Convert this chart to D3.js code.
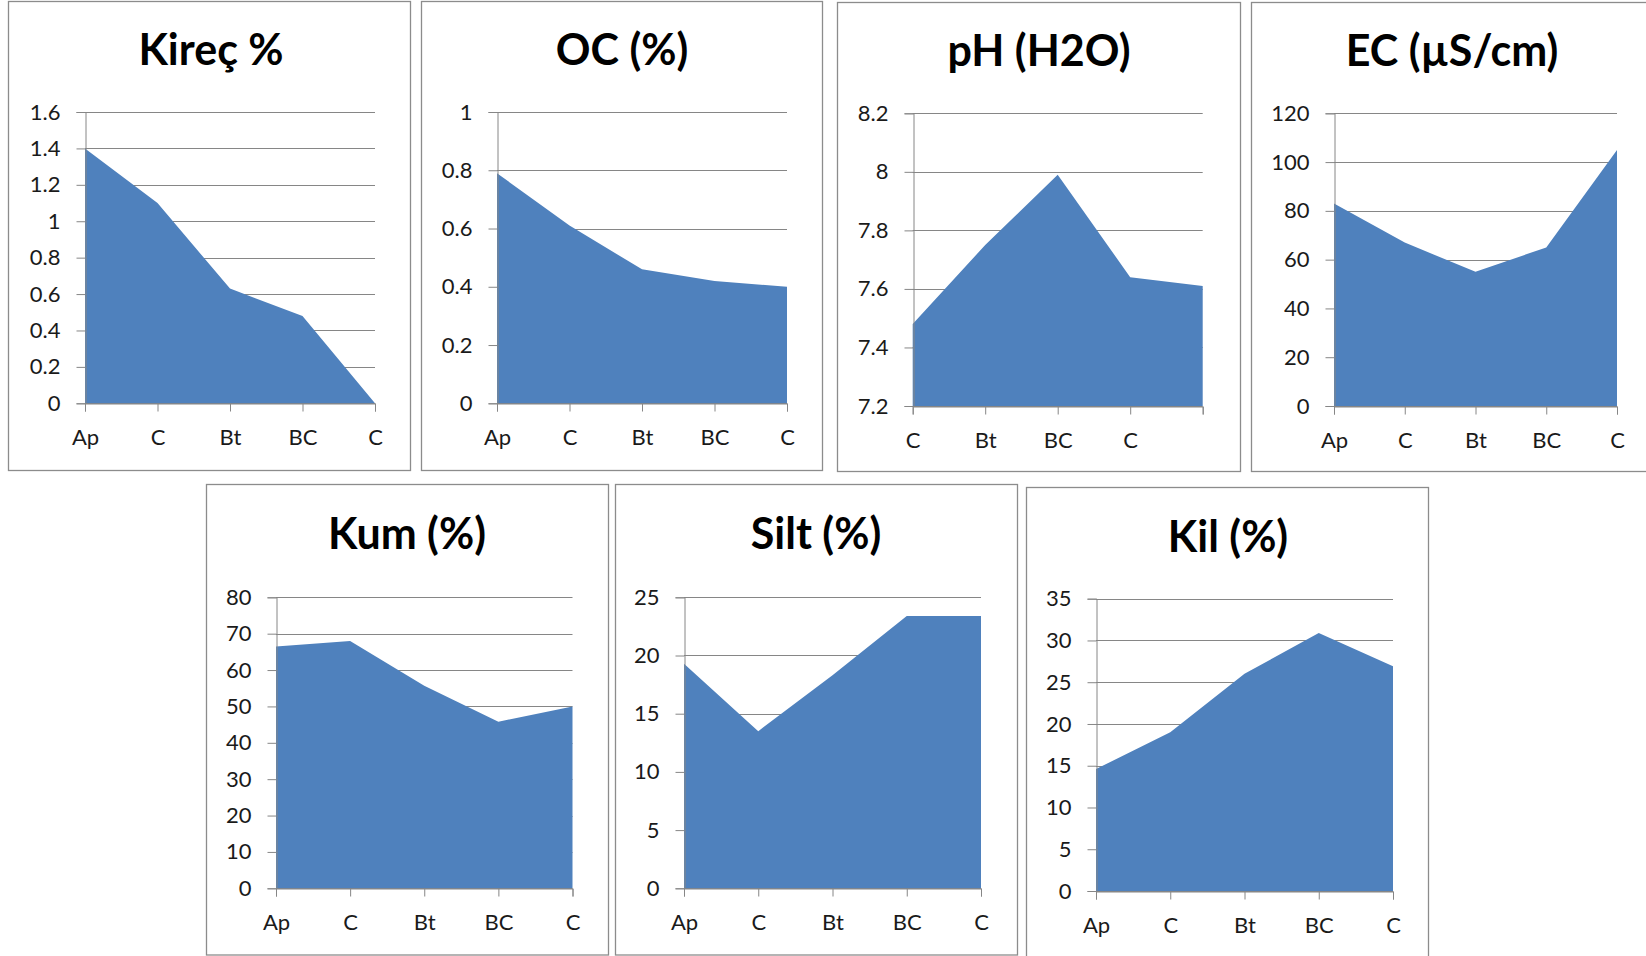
<!DOCTYPE html>
<html>
<head>
<meta charset="utf-8">
<script src="https://cdn.jsdelivr.net/npm/d3@7/dist/d3.min.js"></script>
<style>
  html, body { margin: 0; padding: 0; background: #fff; }
  svg { display: block; }
</style>
</head>
<body>
<svg id="chart" width="1646" height="956"></svg>
<script>
// ---------- DATA ----------
const titles = ["Kireç %", "OC (%)", "pH (H2O)", "EC (µS/cm)", "Kum (%)", "Silt (%)", "Kil (%)"];

const catsMain = ["Ap", "C", "Bt", "BC", "C"];
const catsPH = ["C", "Bt", "BC", "C", ""];

const kirecValues = [1.4, 1.1, 0.63, 0.48, 0];
const ocValues = [0.79, 0.61, 0.46, 0.42, 0.40];
const phValues = [7.48, 7.75, 7.99, 7.64, 7.61];
const ecValues = [83, 67, 55, 65, 105];
const kumValues = [66.5, 68, 55.7, 45.8, 50];
const siltValues = [19.3, 13.5, 18.3, 23.4, 23.4];
const kilValues = [14.6, 19, 26, 30.9, 26.9];

const kirecTicks = [0, 0.2, 0.4, 0.6, 0.8, 1, 1.2, 1.4, 1.6];
const ocTicks = [0, 0.2, 0.4, 0.6, 0.8, 1];
const phTicks = [7.2, 7.4, 7.6, 7.8, 8, 8.2];
const ecTicks = [0, 20, 40, 60, 80, 100, 120];
const kumTicks = [0, 10, 20, 30, 40, 50, 60, 70, 80];
const siltTicks = [0, 5, 10, 15, 20, 25];
const kilTicks = [0, 5, 10, 15, 20, 25, 30, 35];

// ---------- LAYOUT ----------
const panels = [
  { title: titles[0], cats: catsMain, values: kirecValues, ticks: kirecTicks,
    frame: [8.5, 1.5, 410.5, 470.5], px: [85, 375], py: [112, 403.3], tx: 211, ty: 65 },
  { title: titles[1], cats: catsMain, values: ocValues, ticks: ocTicks,
    frame: [421.5, 1.5, 822.5, 470.5], px: [497, 787], py: [112, 403.3], tx: 622, ty: 65 },
  { title: titles[2], cats: catsPH, values: phValues, ticks: phTicks,
    frame: [837.5, 2.5, 1240.5, 471.5], px: [912.7, 1202.7], py: [113.3, 406], tx: 1039, ty: 66 },
  { title: titles[3], cats: catsMain, values: ecValues, ticks: ecTicks,
    frame: [1251.5, 2.5, 1660, 471.5], px: [1334, 1617], py: [113.3, 406], tx: 1452, ty: 66 },
  { title: titles[4], cats: catsMain, values: kumValues, ticks: kumTicks,
    frame: [206.5, 484.5, 608.5, 955], px: [276, 572.5], py: [597.3, 888.3], tx: 407, ty: 549 },
  { title: titles[5], cats: catsMain, values: siltValues, ticks: siltTicks,
    frame: [615.5, 484.5, 1017.5, 955], px: [684, 981], py: [597.3, 888.3], tx: 816, ty: 549 },
  { title: titles[6], cats: catsMain, values: kilValues, ticks: kilTicks,
    frame: [1026.5, 487.5, 1428.5, 970], px: [1096, 1393], py: [598.7, 891], tx: 1228, ty: 552 }
];

const svg = d3.select("#chart");
const FONT = "Lato, 'Open Sans', 'DejaVu Sans', sans-serif";
const gridColor = "#868686";

panels.forEach(p => {
  const g = svg.append("g");
  const [fx0, fy0, fx1, fy1] = p.frame;
  g.append("rect")
    .attr("x", fx0).attr("y", fy0)
    .attr("width", fx1 - fx0).attr("height", fy1 - fy0)
    .attr("fill", "#fff").attr("stroke", "#8c8c8c").attr("stroke-width", 1.3);

  const x = d3.scalePoint().domain(d3.range(p.cats.length)).range(p.px);
  const ext = d3.extent(p.ticks);
  const y = d3.scaleLinear().domain(ext).range([p.py[1], p.py[0]]);

  // gridlines
  g.append("g").selectAll("line").data(p.ticks).join("line")
    .attr("x1", p.px[0]).attr("x2", p.px[1])
    .attr("y1", d => Math.round(y(d)) + 0.5).attr("y2", d => Math.round(y(d)) + 0.5)
    .attr("stroke", gridColor).attr("stroke-width", 1);

  // area
  const area = d3.area()
    .x((d, i) => x(i))
    .y0(y(ext[0]))
    .y1(d => y(d));
  g.append("path").datum(p.values)
    .attr("d", area)
    .attr("fill", "#4F81BD");

  // y axis
  const yAxis = d3.axisLeft(y).tickValues(p.ticks).tickSize(9).tickPadding(16)
    .tickFormat(d => String(+d.toFixed(2)));
  const ya = g.append("g").attr("transform", `translate(${Math.round(p.px[0]) + 0.5},0)`).call(yAxis);
  ya.select(".domain").attr("stroke", gridColor);
  ya.selectAll(".tick line").attr("stroke", gridColor);
  ya.selectAll(".tick text")
    .attr("font-family", FONT).attr("font-size", 22).attr("fill", "#1a1a1a");

  // x axis
  const xAxis = d3.axisBottom(x).tickSize(8).tickPadding(18)
    .tickFormat(i => p.cats[i]);
  const xa = g.append("g").attr("transform", `translate(0,${Math.round(p.py[1]) + 0.5})`).call(xAxis);
  xa.select(".domain").attr("stroke", gridColor);
  xa.selectAll(".tick line").attr("stroke", gridColor);
  xa.selectAll(".tick text")
    .attr("font-family", FONT).attr("font-size", 22).attr("fill", "#1a1a1a");

  // title
  g.append("text")
    .attr("x", p.tx).attr("y", p.ty)
    .attr("text-anchor", "middle")
    .attr("font-family", FONT).attr("font-weight", "bold").attr("font-size", 43)
    .attr("fill", "#000")
    .text(p.title);
});
</script>
</body>
</html>
